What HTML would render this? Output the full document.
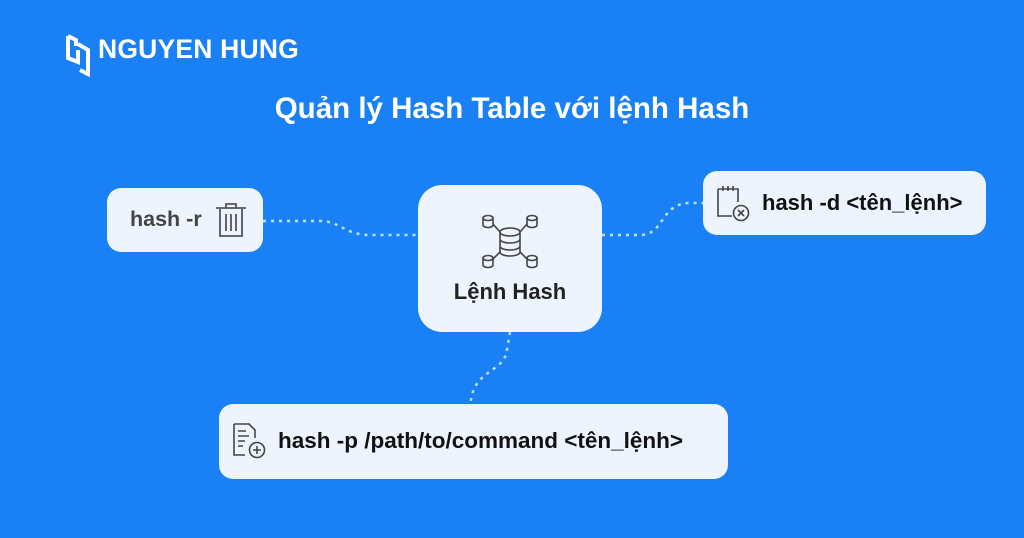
<!DOCTYPE html>
<html><head><meta charset="utf-8"><style>
body{margin:0;width:1024px;height:538px;background:#1a80f5;position:relative;overflow:hidden;font-family:"Liberation Sans",Arial,sans-serif}
.n{position:absolute;background:#eef4fd;border-radius:14px}
.t{position:absolute;font-weight:bold;white-space:nowrap}
</style></head><body>
<svg width="1024" height="538" style="position:absolute;left:0;top:0">
<g fill="none" stroke="#bfe0ff" stroke-width="2.5" stroke-dasharray="3 5">
<path d="M263 221 L320 221 C340 221 345 235 370 235 L418 235"/>
<path d="M602 235 L640 235 C665 235 660 203 690 203 L703 203"/>
<path d="M510 332 L507 350 C505 370 478 370 472 395 L470 404"/>
</g>
<g fill="none" stroke="#fff" stroke-width="4" stroke-linejoin="miter">
<path d="M68 36 L68 58 L78 62 L78 50 M78 44 L88 50 L88 74 L80 70"/>
<path d="M68 36 L76 40 L76 46"/>
</g>
</svg>
<div class="t" style="left:98px;top:34px;font-size:26.5px;color:#fff;letter-spacing:0.2px">NGUYEN HUNG</div>
<div class="t" style="left:0;width:1024px;text-align:center;top:92px;font-size:29.5px;color:#fff">Quản lý Hash Table với lệnh Hash</div>

<div class="n" style="left:107px;top:188px;width:156px;height:64px"></div>
<div class="t" style="left:130px;top:207px;font-size:21.5px;color:#444">hash -r</div>
<svg style="position:absolute;left:213px;top:201px" width="36" height="38"><g fill="none" stroke="#555" stroke-width="1.8"><path d="M3 7 H33 M13 7 V3 H23 V7 M7 8 V35 H29 V8 M13 13 V30 M18 13 V30 M23 13 V30"/></g></svg>

<div class="n" style="left:418px;top:185px;width:184px;height:147px;border-radius:24px"></div>
<svg style="position:absolute;left:478px;top:210px" width="64" height="64"><g fill="none" stroke="#444" stroke-width="1.6">
<ellipse cx="32" cy="22" rx="10" ry="4"/><path d="M22 22 V42 A10 4 0 0 0 42 42 V22 M22 29 A10 4 0 0 0 42 29 M22 36 A10 4 0 0 0 42 36"/>
<ellipse cx="10" cy="8" rx="5" ry="2.5"/><path d="M5 8 V15 A5 2.5 0 0 0 15 15 V8"/>
<ellipse cx="54" cy="8" rx="5" ry="2.5"/><path d="M49 8 V15 A5 2.5 0 0 0 59 15 V8"/>
<ellipse cx="10" cy="48" rx="5" ry="2.5"/><path d="M5 48 V55 A5 2.5 0 0 0 15 55 V48"/>
<ellipse cx="54" cy="48" rx="5" ry="2.5"/><path d="M49 48 V55 A5 2.5 0 0 0 59 55 V48"/>
<path d="M15 14 L22 22 M49 14 L42 22 M15 49 L22 42 M49 49 L42 42"/></g></svg>
<div class="t" style="left:418px;width:184px;text-align:center;top:279px;font-size:22px;color:#222">Lệnh Hash</div>

<div class="n" style="left:703px;top:171px;width:283px;height:64px"></div>
<svg style="position:absolute;left:715px;top:184px" width="40" height="40"><g fill="none" stroke="#444" stroke-width="1.6"><path d="M3 5 H23 V18 M3 5 V32 H17 M8 2 V7 M13 2 V7 M18 2 V7"/><circle cx="26" cy="29" r="7.5"/><path d="M23 26 L29 32 M29 26 L23 32"/></g></svg>
<div class="t" style="left:762px;top:190px;font-size:22px;color:#111">hash -d &lt;tên_lệnh&gt;</div>

<div class="n" style="left:219px;top:404px;width:509px;height:75px"></div>
<svg style="position:absolute;left:231px;top:422px" width="40" height="40"><g fill="none" stroke="#444" stroke-width="1.6"><path d="M3 2 H18 L24 8 V16 M3 2 V33 H14 M7 9 H15 M7 14 H18 M7 19 H14 M7 24 H12"/><circle cx="26" cy="28" r="7.5"/><path d="M26 24 V32 M22 28 H30"/></g></svg>
<div class="t" style="left:278px;top:428px;font-size:22.5px;color:#111">hash -p /path/to/command &lt;tên_lệnh&gt;</div>
</body></html>
